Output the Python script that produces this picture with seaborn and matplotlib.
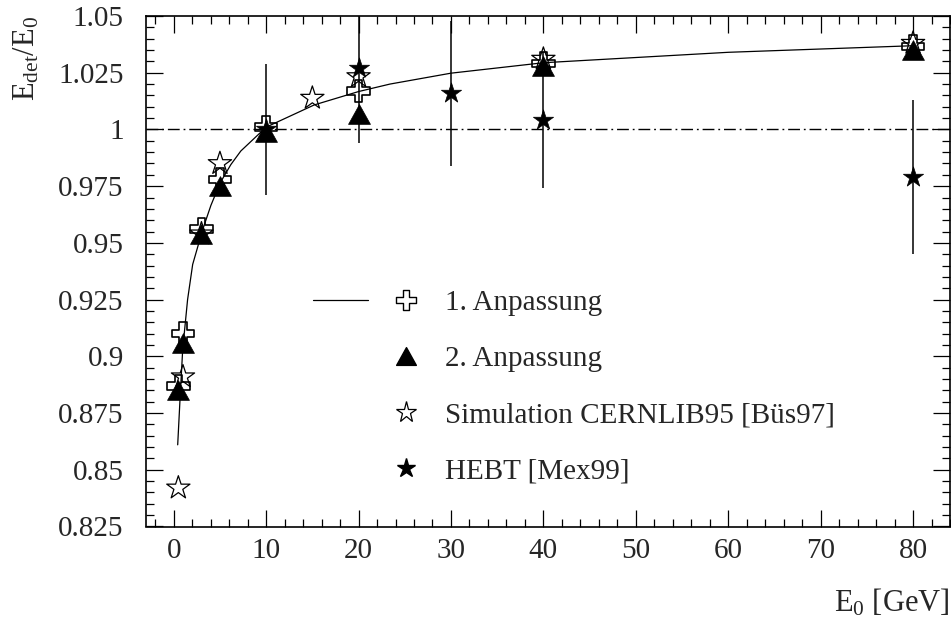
import numpy as np
import pandas as pd
import matplotlib
matplotlib.use("Agg")
import matplotlib.pyplot as plt
from matplotlib.path import Path
from matplotlib.lines import Line2D
from matplotlib.legend_handler import HandlerTuple
from matplotlib.ticker import MultipleLocator, FuncFormatter
import seaborn as sns

# ---------------- data ----------------
energy_fit1 = [0.5, 1, 3, 5, 10, 20, 40, 80]
ratio_fit1 = [0.887, 0.910, 0.956, 0.978, 1.001, 1.017, 1.029, 1.0365]

energy_fit2 = [0.5, 1, 3, 5, 10, 20, 40, 80]
ratio_fit2 = [0.885, 0.906, 0.954, 0.975, 0.999, 1.007, 1.028, 1.035]

energy_sim = [0.5, 1, 3, 5, 15, 20, 40, 80]
ratio_sim = [0.842, 0.891, 0.954, 0.985, 1.0138, 1.0233, 1.031, 1.038]

energy_hebt = [10, 20, 30, 40, 80]
ratio_hebt = [1.000, 1.027, 1.016, 1.004, 0.979]
err_hebt = [0.029, 0.033, 0.032, 0.030, 0.034]

curve_energy = [0.43, 0.68, 0.97, 1.5, 2.05, 3.13, 4.02, 5.03, 6.18, 7.26,
                10, 15.2, 20, 23.4, 30, 40, 60, 80]
curve_ratio = [0.861, 0.881, 0.903, 0.925, 0.9405, 0.9558, 0.9665, 0.9765,
               0.9845, 0.9905, 1.001, 1.0108, 1.0167, 1.0200, 1.0248, 1.0294,
               1.0340, 1.0369]

legend_labels = ["1. Anpassung", "2. Anpassung",
                 "Simulation CERNLIB95 [Büs97]", "HEBT [Mex99]"]

# ---------------- style ----------------
sns.set_theme(style="ticks")
plt.rcParams["font.family"] = ["Liberation Serif", "DejaVu Serif"]
plt.rcParams["mathtext.fontset"] = "custom"
plt.rcParams["mathtext.rm"] = "Liberation Serif"
plt.rcParams["mathtext.it"] = "Liberation Serif"

W, H = 951, 624
fig = plt.figure(figsize=(W / 100, H / 100), dpi=100)
ax = fig.add_axes([146 / W, 1 - 526.5 / H, (950 - 146) / W, (526.5 - 16) / H])

# custom markers
cross_path = Path([(-0.17, 0.5), (0.17, 0.5), (0.17, 0.17), (0.5, 0.17), (0.5, -0.17),
                   (0.17, -0.17), (0.17, -0.5), (-0.17, -0.5), (-0.17, -0.17),
                   (-0.5, -0.17), (-0.5, 0.17), (-0.17, 0.17), (-0.17, 0.5)], closed=True)
tri_path = Path([(0, 0.45), (-0.5, -0.45), (0.5, -0.45), (0, 0.45)], closed=True)

# fit curve
df_curve = pd.DataFrame({"E": curve_energy, "R": curve_ratio})
sns.lineplot(data=df_curve, x="E", y="R", ax=ax, color="black", lw=0.9,
             sort=False, estimator=None, zorder=2)

# reference line at 1
ax.axhline(1.0, color="black", lw=1.0, ls=(0, (8.5, 2.8, 1.3, 2.8)), zorder=1)

# HEBT error bars
ax.errorbar(energy_hebt, ratio_hebt, yerr=err_hebt, fmt="none", ecolor="black",
            elinewidth=1.1, capsize=0, zorder=2)

ms_cross, ms_tri, ms_osta, ms_fsta = 16.2, 15.8, 17.6, 15.3

sns.scatterplot(x=energy_sim, y=ratio_sim, ax=ax, marker="*", s=ms_osta ** 2,
                color="black", edgecolor="black", linewidth=0.9, zorder=3)
ax.collections[-1].set_facecolor("none")

sns.scatterplot(x=energy_fit1, y=ratio_fit1, ax=ax, marker=cross_path, s=ms_cross ** 2,
                color="black", edgecolor="black", linewidth=1.2, zorder=4)
ax.collections[-1].set_facecolor("none")

sns.scatterplot(x=energy_fit2, y=ratio_fit2, ax=ax, marker=tri_path, s=ms_tri ** 2,
                color="black", edgecolor="black", linewidth=0.5, zorder=5)

sns.scatterplot(x=energy_hebt, y=ratio_hebt, ax=ax, marker="*", s=ms_fsta ** 2,
                color="black", edgecolor="black", linewidth=0.5, zorder=6)

# axes
ax.set_xlim(-3, 84)
ax.set_ylim(0.825, 1.05)
ax.xaxis.set_major_locator(MultipleLocator(10))
ax.xaxis.set_minor_locator(MultipleLocator(2))
ax.yaxis.set_major_locator(MultipleLocator(0.025))
ax.yaxis.set_minor_locator(MultipleLocator(0.005))
ax.yaxis.set_major_formatter(FuncFormatter(lambda v, p: "%g" % round(v, 4)))
ax.tick_params(which="both", direction="in", top=True, right=True, color="black",
               width=0.9)
ax.tick_params(which="major", length=12.2, labelsize=21)
ax.tick_params(which="minor", length=5.8)
ax.tick_params(axis="x", which="major", pad=8)
ax.tick_params(axis="y", which="major", pad=16)
for sp in ax.spines.values():
    sp.set_visible(True)
    sp.set_color("black")
    sp.set_linewidth(1.2)

ax.set_xlabel(r"E$_{\mathrm{0}}$ [GeV]", loc="right", fontsize=22, labelpad=17)
ax.set_ylabel(r"$\mathrm{E_{det}/E_0}$", loc="top", fontsize=22, labelpad=12)

# legend
blank = Line2D([], [], color="none")
h_line = Line2D([], [], color="black", lw=0.9)
h_cross = Line2D([], [], ls="none", marker=cross_path, markersize=ms_cross,
                 markerfacecolor="none", markeredgecolor="black", markeredgewidth=1.0)
h_tri = Line2D([], [], ls="none", marker=tri_path, markersize=ms_tri,
               color="black")
h_osta = Line2D([], [], ls="none", marker="*", markersize=ms_osta,
                markerfacecolor="none", markeredgecolor="black", markeredgewidth=0.9)
h_fsta = Line2D([], [], ls="none", marker="*", markersize=ms_fsta, color="black")

fs_leg = 21
fpx = fs_leg * 100 / 72
leg = ax.legend([(h_line, h_cross), (blank, h_tri), (blank, h_osta), (blank, h_fsta)],
                legend_labels,
                handler_map={tuple: HandlerTuple(ndivide=None, pad=10.5 / fpx)},
                loc="upper left", bbox_to_anchor=(313 / W, 1 - 290 / H),
                bbox_transform=fig.transFigure, frameon=False, fontsize=fs_leg,
                handlelength=120.5 / fpx, handletextpad=11.5 / fpx,
                labelspacing=1.01, borderpad=0, borderaxespad=0, markerscale=0.9)

fig.savefig("out.png", dpi=100)
